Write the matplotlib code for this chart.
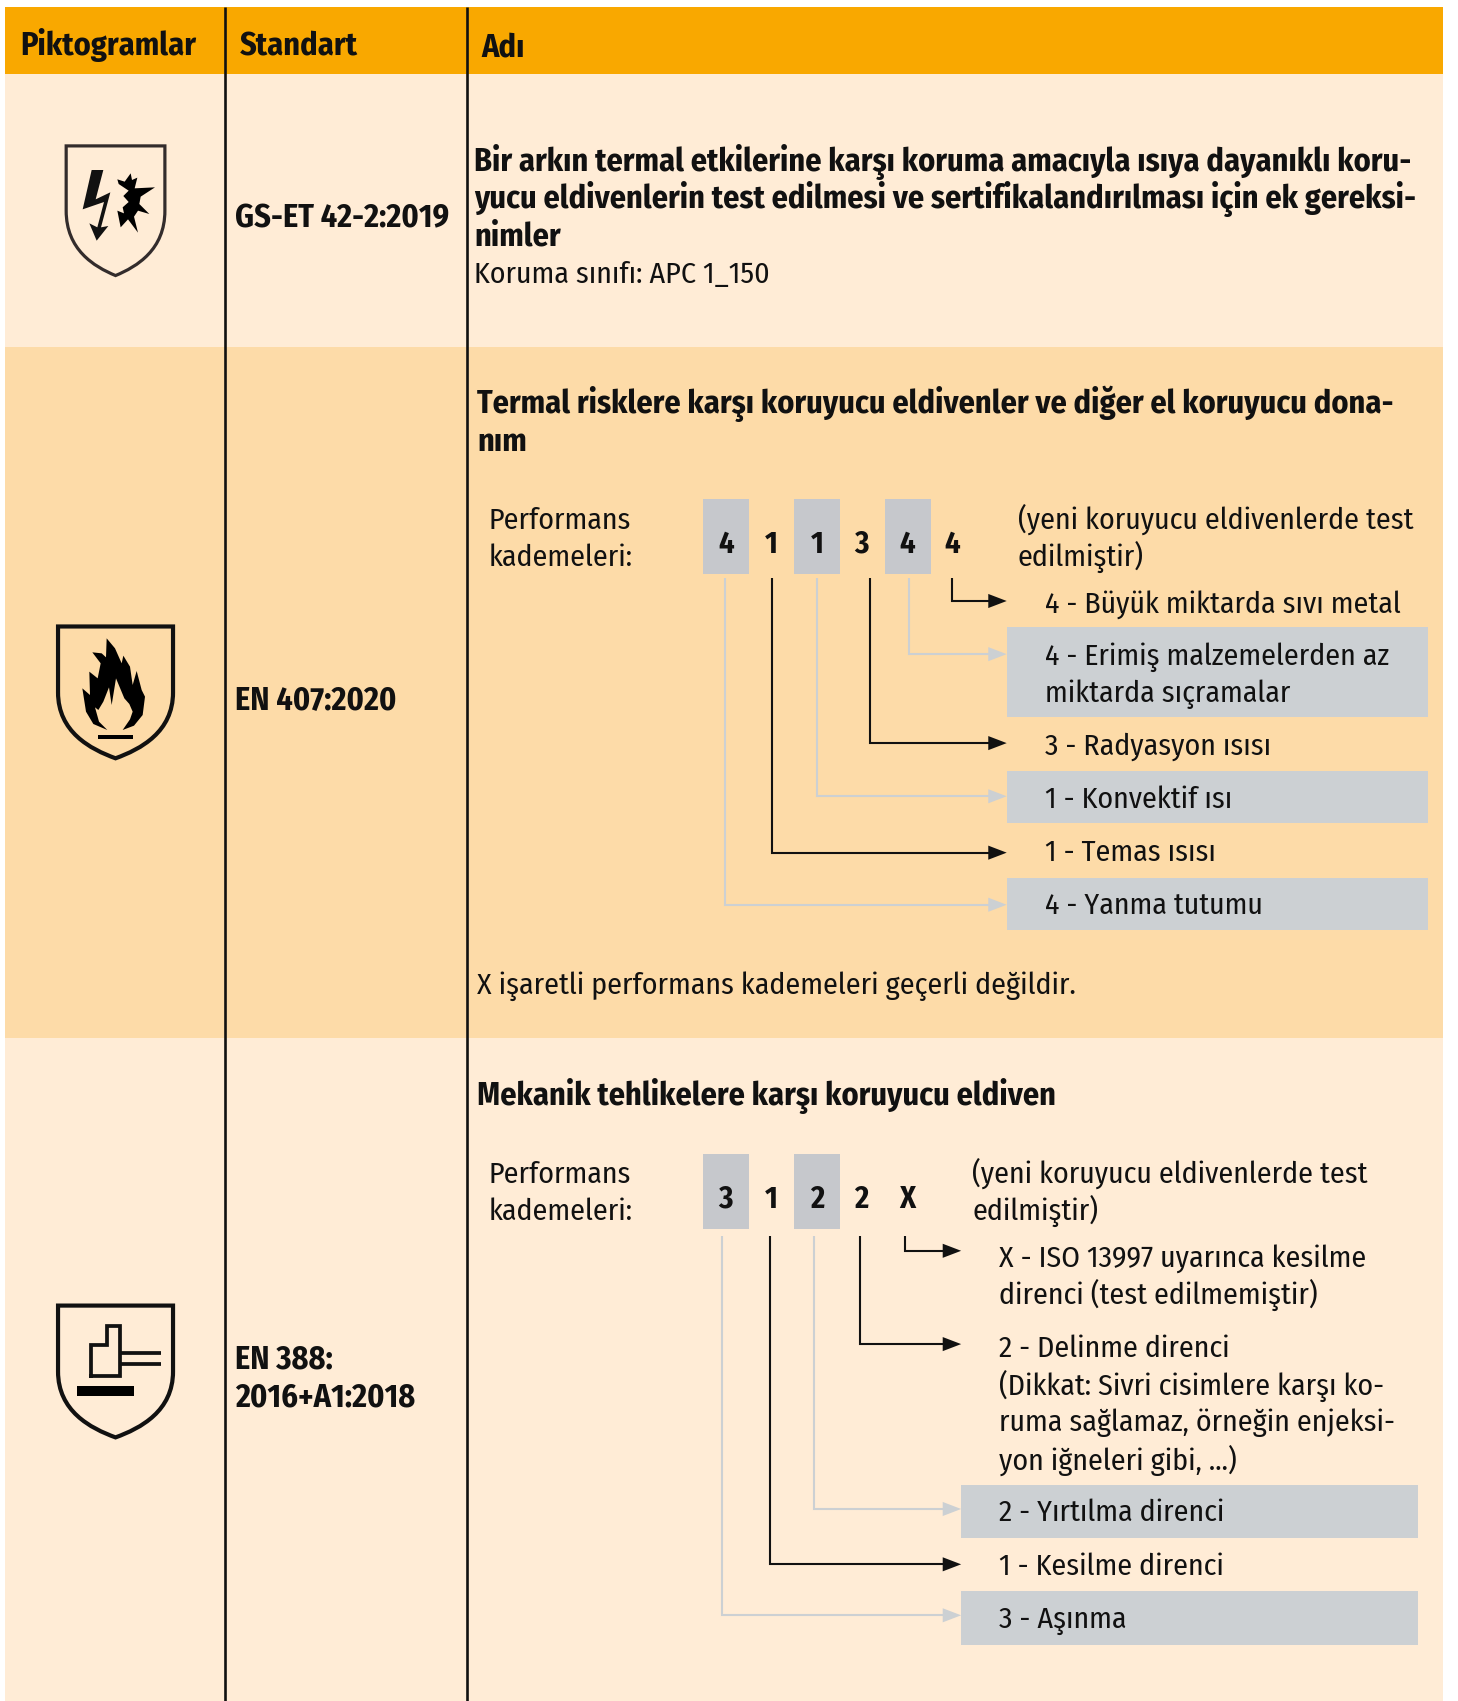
import warnings, logging
import matplotlib; matplotlib.use("Agg")
import matplotlib.pyplot as plt
from matplotlib.path import Path
from matplotlib.patches import PathPatch, Rectangle
warnings.filterwarnings("ignore")
logging.getLogger("matplotlib.font_manager").setLevel(logging.ERROR)

plt.rcParams["font.family"] = ["Fira Sans Condensed", "Open Sans", "Noto Sans"]

ORANGE, LIGHT, MID = "#f9a800", "#ffecd6", "#fddba8"
BOX, LABELBOX, PALE = "#c6c8cc", "#ccd0d3", "#ccd0d3"
INK = "#111111"
FS, FS_BOLD, FS_DIGIT = 21.5, 23.2, 22

# --- texts
headers = ["Piktogramlar", "Standart", "Adı"]
std1 = ["GS-ET 42-2:2019"]
std2 = ["EN 407:2020"]
std3 = ["EN 388:", "2016+A1:2018"]
title1 = ["Bir arkın termal etkilerine karşı koruma amacıyla ısıya dayanıklı koru-",
          "yucu eldivenlerin test edilmesi ve sertifikalandırılması için ek gereksi-",
          "nimler"]
sub1 = "Koruma sınıfı: APC 1_150"
title2 = ["Termal risklere karşı koruyucu eldivenler ve diğer el koruyucu dona-", "nım"]
title3 = ["Mekanik tehlikelere karşı koruyucu eldiven"]
perf = ["Performans", "kademeleri:"]
tested = ["(yeni koruyucu eldivenlerde test", "edilmiştir)"]
note2 = "X işaretli performans kademeleri geçerli değildir."
digits2 = ["4", "1", "1", "3", "4", "4"]
digits3 = ["3", "1", "2", "2", "X"]
labels2 = [("4 - Büyük miktarda sıvı metal", 555), ("4 - Erimiş malzemelerden az", 603),
           ("miktarda sıçramalar", 638), ("3 - Radyasyon ısısı", 686),
           ("1 - Konvektif ısı", 735), ("1 - Temas ısısı", 784), ("4 - Yanma tutumu", 833)]
labels3 = [("X - ISO 13997 uyarınca kesilme", 1158), ("direnci (test edilmemiştir)", 1192),
           ("2 - Delinme direnci", 1241), ("(Dikkat: Sivri cisimlere karşı ko-", 1276),
           ("ruma sağlamaz, örneğin enjeksi-", 1310), ("yon iğneleri gibi, ...)", 1345),
           ("2 - Yırtılma direnci", 1393), ("1 - Kesilme direnci", 1442), ("3 - Aşınma", 1491)]
# connector: x, y of the horizontal run, colour
conn2 = [(878, 554, INK), (838, 603, PALE), (802, 685, INK), (753, 734, PALE), (712, 786, INK), (668, 834, PALE)]
conn3 = [(834, 1153, INK), (793, 1239, INK), (750, 1391, PALE), (710, 1442, INK), (666, 1489, PALE)]
digit_x = [669, 711, 753, 794, 836, 878]

# pixel coords of the reference at 1344x1568
fig = plt.figure(figsize=(14.58, 17.01), dpi=100)
ax = fig.add_axes([0, 0, 1, 1]); ax.set_xlim(0, 1344); ax.set_ylim(1568, 0); ax.axis("off")

def rect(x0, y0, x1, y1, c, z=1):
    ax.add_patch(Rectangle((x0, y0), x1 - x0, y1 - y0, fc=c, ec="none", zorder=z))
def txt(x, y, s, bold=False, size=None, ha="left"):
    ax.text(x, y + 9.5, s, fontsize=size or (FS_BOLD if bold else FS), fontweight="bold" if bold else "normal",
            color=INK, ha=ha, va="baseline", zorder=5)
def connector(x, y, c, top, tip):
    ax.plot([x, x, tip - 14], [top, y, y], color=c, lw=1.5, solid_joinstyle="miter", solid_capstyle="butt", zorder=3)
    ax.fill([tip - 17, tip, tip - 17], [y - 6.5, y, y + 6.5], color=c, lw=0, zorder=3)

rect(5, 6, 1330, 68, ORANGE)
rect(5, 68, 1330, 320, LIGHT)
rect(5, 320, 1330, 957, MID)
rect(5, 957, 1330, 1568, LIGHT)
for x in (207.5, 430.5):
    ax.plot([x, x], [6, 1568], color=INK, lw=1.9, solid_capstyle="butt", zorder=4)

for x, y, s in zip((19, 221, 444), (41, 41, 43), headers):
    txt(x, y, s, bold=True)

txt(217, 200, std1[0], bold=True)
txt(217, 644, std2[0], bold=True)
txt(217, 1252, std3[0], bold=True); txt(217, 1287, std3[1], bold=True)

for y, s in zip((148, 182, 217), title1):
    txt(437, y, s, bold=True)
txt(437, 251, sub1)
for y, s in zip((371, 406), title2):
    txt(440, y, s, bold=True)
txt(440, 1009, title3[0], bold=True)
txt(440, 907, note2)

for y, s in zip((478, 512), perf): txt(450, y, s)
for y, s in zip((1081, 1115), perf): txt(450, y, s)
for y, s in zip((478, 512), tested): txt(938, y, s)
for y, s in zip((1081, 1115), tested): txt(896, y, s)

for x0 in (648, 732, 816):
    rect(x0, 460, x0 + 42, 529, BOX)
for x0 in (648, 732):
    rect(x0, 1064, x0 + 42, 1133, BOX)
for x, s in zip(digit_x, digits2): txt(x, 500, s, bold=True, size=FS_DIGIT, ha="center")
for x, s in zip(digit_x, digits3): txt(x, 1104, s, bold=True, size=FS_DIGIT, ha="center")

for y0, y1 in [(578, 661), (711, 759), (809, 857)]:
    rect(928, y0, 1316, y1, LABELBOX, z=2)
for y0, y1 in [(1369, 1418), (1467, 1516)]:
    rect(886, y0, 1307, y1, LABELBOX, z=2)
for x, y, c in conn2: connector(x, y, c, 533, 928)
for x, y, c in conn3: connector(x, y, c, 1139, 886)
for s, y in labels2: txt(963, y, s)
for s, y in labels3: txt(921, y, s)

# --- pictograms: crops at 3x of the full-size picture, so z/3 + origin, then down to 1344 wide
K = 1344 / 1458
def zpt(pts, ox, oy):
    return [((ox + a / 3) * K, (oy + b / 3) * K) for a, b in pts]
def shield(x0, x1, y0, y1, lw, c=INK):
    w, h = x1 - x0, y1 - y0; xm = (x0 + x1) / 2; ys = y0 + 0.50 * h
    v = [(x0, y0), (x1, y0), (x1, ys), (x1, y0 + 0.80 * h), (xm + 0.22 * w, y0 + 0.93 * h), (xm, y1),
         (xm - 0.22 * w, y0 + 0.93 * h), (x0, y0 + 0.80 * h), (x0, ys), (x0, y0)]
    codes = [Path.MOVETO, Path.LINETO, Path.LINETO, Path.CURVE4, Path.CURVE4, Path.CURVE4,
             Path.CURVE4, Path.CURVE4, Path.CURVE4, Path.CLOSEPOLY]
    ax.add_patch(PathPatch(Path(v, codes), fc="none", ec=c, lw=lw, joinstyle="miter", zorder=3))
def poly(pts, c=INK):
    xs, ys = zip(*pts); ax.fill(xs, ys, color=c, lw=0, zorder=4)

# arc flash
shield(61, 152, 134.5, 254, 2.3, "#332c2c")
bolt = [(275, 510), (310, 510), (287, 598), (331, 577), (303, 682), (325, 678), (290, 722), (268, 670),
        (292, 682), (312, 606), (248, 628)]
burst = [(352, 538), (374, 545), (392, 520), (396, 540), (412, 533), (404, 565), (465, 562), (422, 590),
         (418, 612), (448, 642), (414, 632), (402, 650), (414, 698), (384, 658), (362, 682), (352, 632),
         (372, 640), (368, 622), (386, 606), (370, 588), (386, 572), (356, 552)]
poly(zpt(bolt, 0, 0)); poly(zpt(burst, 0, 0), "#000000")

# flame
shield(53.5, 159.5, 577.5, 699, 3.0)
flame = [(232, 390), (190, 372), (168, 335), (157, 265), (180, 285), (178, 215), (203, 235), (212, 190), (187, 157),
         (215, 160), (228, 172), (230, 115), (255, 145), (275, 190), (280, 167), (300, 200), (308, 255), (320, 213),
         (335, 270), (345, 290), (338, 345), (312, 377), (278, 390), (300, 358), (308, 335), (298, 312), (283, 295),
         (258, 235), (245, 315), (237, 262), (220, 305), (205, 330), (195, 322), (207, 365)]
poly(zpt(flame, 30, 600), "#000000")
poly(zpt([(205, 405), (308, 405), (308, 418), (205, 418)], 30, 600), "#000000")

# mechanical
shield(53.5, 159.5, 1203.5, 1325, 3.0)
thumb = zpt([(182, 257), (182, 165), (230, 165), (230, 107), (270, 107), (270, 257), (182, 257)], 30, 1290)
ax.plot(*zip(*thumb), color=INK, lw=2.7, solid_joinstyle="miter", zorder=4)
for b in (188, 222):
    ax.plot(*zip(*zpt([(270, b), (392, b)], 30, 1290)), color=INK, lw=2.7, solid_capstyle="butt", zorder=4)
poly(zpt([(141, 288), (312, 288), (312, 317), (141, 317)], 30, 1290), "#000000")

fig.savefig("out.png", dpi=100)
